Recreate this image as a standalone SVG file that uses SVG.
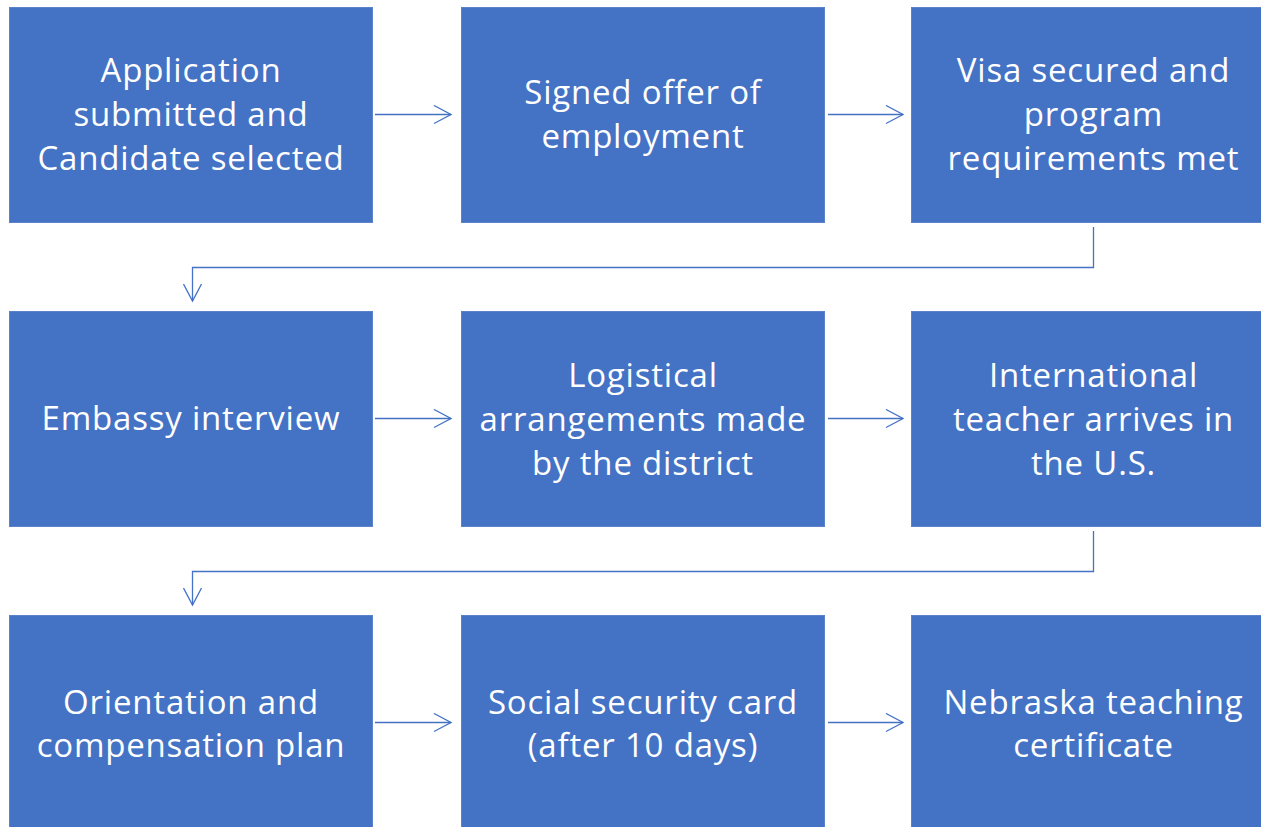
<svg xmlns="http://www.w3.org/2000/svg" width="1261" height="827" viewBox="0 0 1261 827">
  <style>
    .box { fill: #4472C4; stroke: #5B82CB; stroke-width: 1; }
    .lbl { fill: #FFFFFF; font-family: "Open Sans", "Liberation Sans", Arial, sans-serif; font-size: 33px; letter-spacing: 0.8px; text-anchor: middle; dominant-baseline: central; }
    .conn { fill: none; stroke: #4472C4; stroke-width: 1.3; }
  </style>
  <defs>
    <marker id="chev" viewBox="0 0 20 20" refX="18" refY="10" markerWidth="20" markerHeight="20" markerUnits="userSpaceOnUse" orient="auto">
      <path d="M1,1 L18,10 L1,19" fill="none" stroke="#4472C4" stroke-width="1.3"/>
    </marker>
  </defs>
  <rect width="1261" height="827" fill="#FFFFFF"/>

  <!-- row 1 -->
  <g id="n1"><rect class="box" x="9.5" y="7.5" width="363" height="215"/>
    <text class="lbl"><tspan x="191" y="69">Application</tspan><tspan x="191" y="113">submitted and</tspan><tspan x="191" y="157">Candidate selected</tspan></text></g>
  <g id="n2"><rect class="box" x="461.5" y="7.5" width="363" height="215"/>
    <text class="lbl"><tspan x="643" y="91">Signed offer of</tspan><tspan x="643" y="135">employment</tspan></text></g>
  <g id="n3"><rect class="box" x="911.5" y="7.5" width="363" height="215"/>
    <text class="lbl"><tspan x="1093.5" y="69">Visa secured and</tspan><tspan x="1093.5" y="113">program</tspan><tspan x="1093.5" y="157">requirements met</tspan></text></g>

  <!-- row 2 -->
  <g id="n4"><rect class="box" x="9.5" y="311.5" width="363" height="215"/>
    <text class="lbl"><tspan x="191" y="417">Embassy interview</tspan></text></g>
  <g id="n5"><rect class="box" x="461.5" y="311.5" width="363" height="215"/>
    <text class="lbl"><tspan x="643" y="374">Logistical</tspan><tspan x="643" y="418">arrangements made</tspan><tspan x="643" y="462">by the district</tspan></text></g>
  <g id="n6"><rect class="box" x="911.5" y="311.5" width="363" height="215"/>
    <text class="lbl"><tspan x="1093.5" y="374">International</tspan><tspan x="1093.5" y="418">teacher arrives in</tspan><tspan x="1093.5" y="462">the U.S.</tspan></text></g>

  <!-- row 3 -->
  <g id="n7"><rect class="box" x="9.5" y="615.5" width="363" height="215"/>
    <text class="lbl"><tspan x="191" y="701">Orientation and</tspan><tspan x="191" y="744">compensation plan</tspan></text></g>
  <g id="n8"><rect class="box" x="461.5" y="615.5" width="363" height="215"/>
    <text class="lbl"><tspan x="643" y="701">Social security card</tspan><tspan x="643" y="744">(after 10 days)</tspan></text></g>
  <g id="n9"><rect class="box" x="911.5" y="615.5" width="363" height="215"/>
    <text class="lbl"><tspan x="1093.5" y="701">Nebraska teaching</tspan><tspan x="1093.5" y="744">certificate</tspan></text></g>

  <g id="connectors">
    <path class="conn" d="M375,114.5 H451" marker-end="url(#chev)"/>
    <path class="conn" d="M828,114.5 H903" marker-end="url(#chev)"/>
    <path class="conn" d="M1093.5,227 V267.5 H192.5 V301" marker-end="url(#chev)"/>
    <path class="conn" d="M375,418.5 H451" marker-end="url(#chev)"/>
    <path class="conn" d="M828,418.5 H903" marker-end="url(#chev)"/>
    <path class="conn" d="M1093.5,531 V571.5 H192.5 V605" marker-end="url(#chev)"/>
    <path class="conn" d="M375,722.5 H451" marker-end="url(#chev)"/>
    <path class="conn" d="M828,722.5 H903" marker-end="url(#chev)"/>
  </g>
</svg>
